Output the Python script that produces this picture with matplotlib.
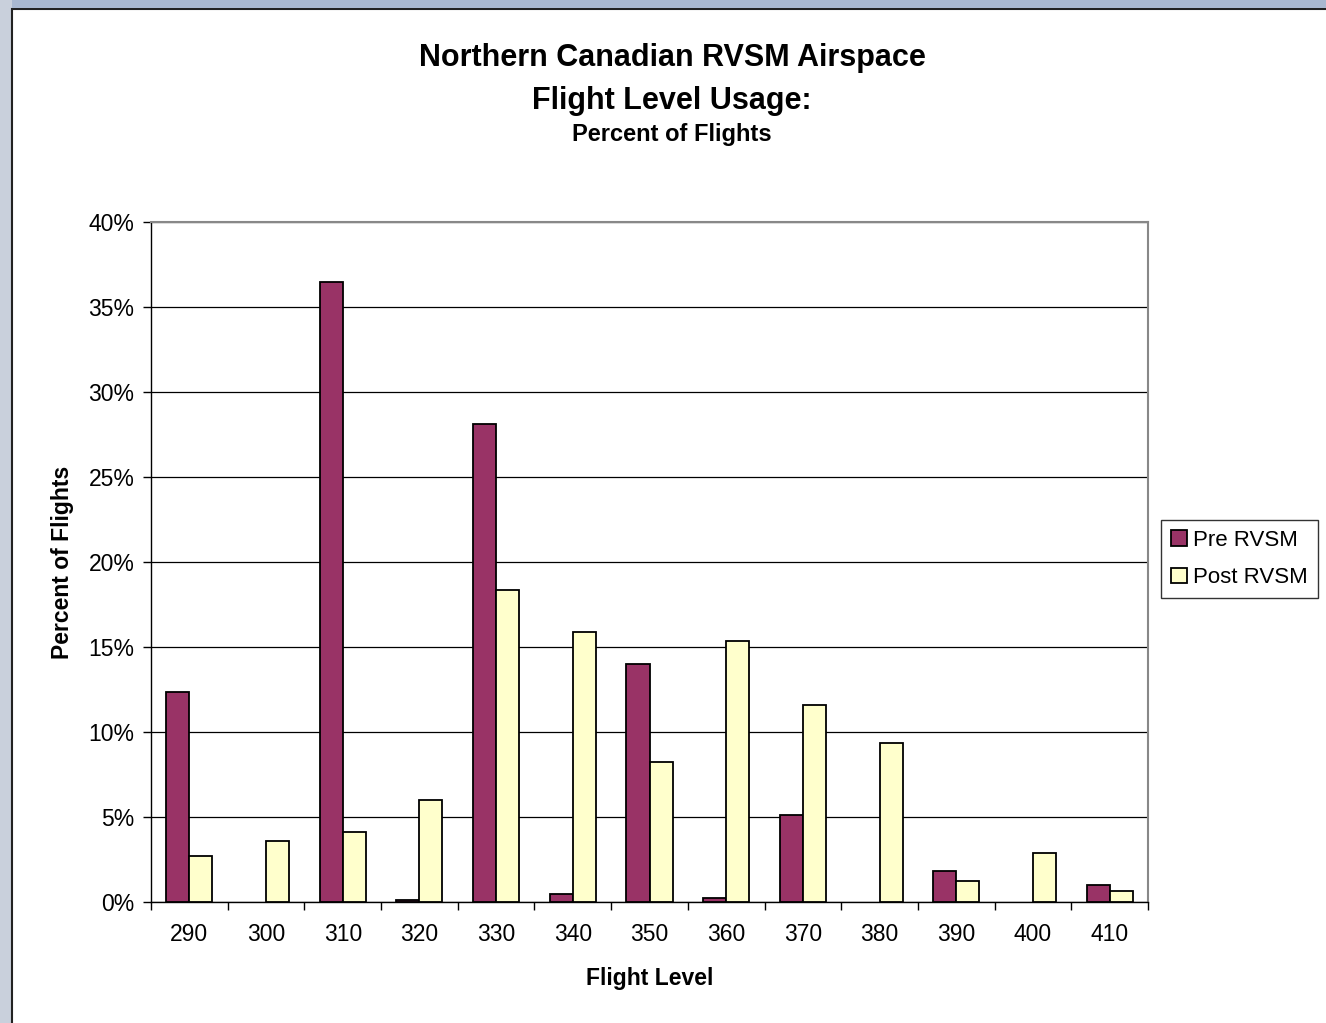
import matplotlib
matplotlib.use("Agg")
import matplotlib.pyplot as plt
import numpy as np
from matplotlib.patches import Rectangle
from matplotlib.ticker import FuncFormatter, FixedLocator

plt.rcParams['font.family'] = ['Liberation Sans', 'DejaVu Sans']

flight_levels = ["290", "300", "310", "320", "330", "340", "350",
                 "360", "370", "380", "390", "400", "410"]
pre_rvsm = [12.35, 0.0, 36.5, 0.1, 28.1, 0.45, 14.0, 0.25, 5.1, 0.0, 1.8, 0.0, 1.0]
post_rvsm = [2.7, 3.6, 4.1, 6.0, 18.35, 15.9, 8.25, 15.35, 11.6, 9.35, 1.25, 2.9, 0.65]

W, H = 1326, 1023
fig = plt.figure(figsize=(W / 100, H / 100), dpi=100)
fig.patch.set_facecolor("#c9d0dc")

# white chart sheet with dark border, kept behind the axes
sheet = Rectangle((12 / W, -0.01), 1 - 12 / W + 0.01, 1 - 9 / H + 0.01, transform=fig.transFigure,
                  facecolor="white", edgecolor="#222222", linewidth=1.5, zorder=-10)
fig.patches.append(sheet)
# light blue strip along the top
fig.patches.append(Rectangle((12 / W, 1 - 8 / H), 1, 8 / H, transform=fig.transFigure,
                             facecolor="#a9b8d0", edgecolor="none", zorder=-10))

left, right, top, bottom = 151, 1148, 222, 902
ax = fig.add_axes([left / W, 1 - bottom / H, (right - left) / W, (bottom - top) / H])
ax.set_zorder(1)
ax.set_facecolor("white")

x = np.arange(len(flight_levels))
bw = 0.3


def edges(values):
    # empty categories get no outline
    return ["black" if v > 0 else "none" for v in values]


ax.bar(x - bw / 2, pre_rvsm, bw, color="#993366", edgecolor=edges(pre_rvsm), linewidth=1.3,
       label="Pre RVSM", zorder=3)
ax.bar(x + bw / 2, post_rvsm, bw, color="#FFFFCC", edgecolor=edges(post_rvsm), linewidth=1.3,
       label="Post RVSM", zorder=3)

ax.set_xlim(-0.5, len(flight_levels) - 0.5)
ax.set_ylim(0, 40)
ax.set_yticks(np.arange(0, 41, 5))
ax.yaxis.set_major_formatter(FuncFormatter(lambda v, p: f"{int(v)}%"))
ax.grid(axis="y", color="black", linewidth=0.9, zorder=1)

# category labels centred, tick marks on the category boundaries
ax.set_xticks(x)
ax.set_xticklabels(flight_levels, fontsize=16.5)
ax.tick_params(axis="x", which="major", length=0, pad=15)
ax.xaxis.set_minor_locator(FixedLocator(np.arange(-0.5, len(flight_levels), 1.0)))
ax.tick_params(axis="x", which="minor", length=6, width=1, direction="out")
ax.tick_params(axis="y", labelsize=16.5, length=6, width=1, direction="out", pad=6)

for s in ["left", "bottom"]:
    ax.spines[s].set_color("black")
    ax.spines[s].set_linewidth(1)
for s in ["top", "right"]:
    ax.spines[s].set_color("#888888")
    ax.spines[s].set_linewidth(1.5)

ax.set_xlabel("Flight Level", fontsize=16.5, fontweight="bold", labelpad=15)
ax.set_ylabel("Percent of Flights", fontsize=16.5, fontweight="bold", labelpad=10)

fig.text(672 / W, 1 - 58 / H, "Northern Canadian RVSM Airspace", ha="center", va="center",
         fontsize=22, fontweight="bold")
fig.text(672 / W, 1 - 101 / H, "Flight Level Usage:", ha="center", va="center",
         fontsize=22, fontweight="bold")
fig.text(672 / W, 1 - 134 / H, "Percent of Flights", ha="center", va="center",
         fontsize=17, fontweight="bold")

leg = fig.legend(loc="center left", bbox_to_anchor=(1161 / W, 1 - 559 / H), fontsize=16,
                 frameon=True, fancybox=False, edgecolor="black", handlelength=0.7,
                 handleheight=0.7, handletextpad=0.3, borderpad=0.45, labelspacing=0.75,
                 borderaxespad=0)
leg.get_frame().set_linewidth(1)

fig.savefig("out.png", dpi=100, facecolor=fig.get_facecolor())
